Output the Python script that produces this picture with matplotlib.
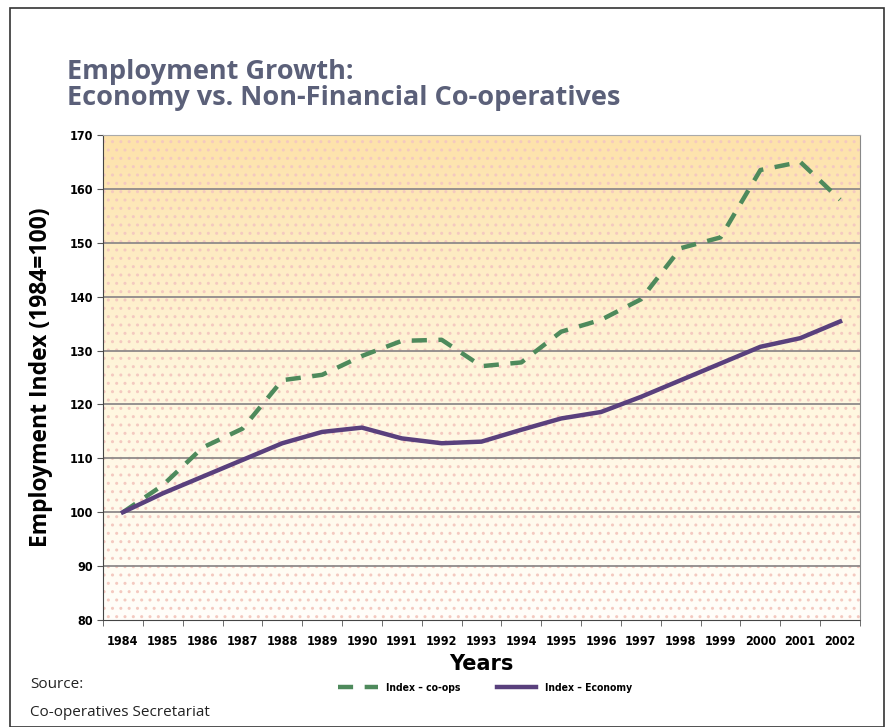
import numpy as np
import matplotlib
matplotlib.use('Agg')
import matplotlib.pyplot as plt
from matplotlib.patches import Rectangle

# data
years = ['1984', '1985', '1986', '1987', '1988', '1989', '1990', '1991', '1992', '1993',
         '1994', '1995', '1996', '1997', '1998', '1999', '2000', '2001', '2002']
coops = [100, 105, 112, 115.5, 124.5, 125.5, 129, 131.8, 132, 127.1,
         127.8, 133.5, 135.7, 139.5, 149, 151, 163.5, 165, 158]
economy = [100, 103.5, 106.6, 109.7, 112.8, 114.9, 115.7, 113.7, 112.8, 113.1,
           115.3, 117.4, 118.6, 121.4, 124.5, 127.6, 130.7, 132.3, 135.4]
y_ticks = [80, 90, 100, 110, 120, 130, 140, 150, 160, 170]

narrow = ['DejaVu Sans']
sans = ['Open Sans', 'DejaVu Sans']

fig = plt.figure(figsize=(8.95, 7.27), dpi=100)
fig.patches.append(Rectangle((10 / 895, 0), 874 / 895, 1 - 8 / 727, transform=fig.transFigure,
                             fill=False, edgecolor='#333333', linewidth=1.2))

ax = fig.add_axes([103 / 895, 1 - 620 / 727, 757 / 895, 485 / 727])
x = np.arange(len(years))

# orange-to-cream gradient background with faint dot pattern
grad = np.linspace(0, 1, 256).reshape(-1, 1)
cmap = matplotlib.colors.LinearSegmentedColormap.from_list('bg', ['#fffefa', '#fff6dc', '#fde2aa'])
ax.imshow(grad, extent=[-0.5, 18.5, 80, 170], origin='lower', aspect='auto', cmap=cmap, zorder=0)
ax.add_patch(Rectangle((-0.5, 80), 19, 90, fill=False, hatch='..', edgecolor='#f4c9c0',
                       linewidth=0, zorder=0.5))

for t in y_ticks[1:-1]:
    ax.axhline(t, color='#8f8a8a', linewidth=1.3, zorder=1)

ax.plot(x, coops, color='#4e8a5c', linewidth=3.2, dashes=(3.4, 2.6), label='Index – co-ops', zorder=3)
ax.plot(x, economy, color='#59407d', linewidth=3.2, label='Index – Economy', zorder=3)

ax.set_xlim(-0.5, 18.5)
ax.set_ylim(80, 170)
ax.set_yticks(y_ticks)
ax.set_yticklabels([str(t) for t in y_ticks], family=narrow, fontweight='bold', fontsize=9,
                   fontstretch='condensed')
ax.set_xticks(x)
ax.set_xticklabels(years, family=narrow, fontweight='bold', fontsize=9, fontstretch='condensed')
ax.set_xticks(np.arange(-0.5, 19, 1), minor=True)
ax.tick_params(axis='x', which='major', length=0, pad=11)
ax.tick_params(axis='x', which='minor', length=4, color='#555555')
ax.tick_params(axis='y', length=4, color='#555555', pad=3)

ax.spines['left'].set_linestyle((0, (1, 1)))
ax.spines['bottom'].set_linestyle((0, (1, 1)))
ax.spines['left'].set_color('#444444')
ax.spines['bottom'].set_color('#444444')
ax.spines['top'].set_color('#aaaaaa')
ax.spines['right'].set_color('#888888')
ax.spines['right'].set_linestyle((0, (1, 1)))

ax.set_ylabel('Employment Index (1984=100)', family=sans, fontweight='bold', fontsize=16.5,
              labelpad=12)
ax.set_xlabel('Years', family=narrow, fontweight='bold', fontsize=15, labelpad=4)

fig.text(67 / 895, 1 - 59 / 727, 'Employment Growth:\nEconomy vs. Non-Financial Co-operatives',
         family=sans, fontweight='bold', fontsize=19.5, color='#5b6079',
         va='top', ha='left', linespacing=1.0)

fig.legend(loc='center', bbox_to_anchor=(485 / 895, 1 - 688 / 727), ncol=2, frameon=False,
           prop={'family': narrow, 'weight': 'bold', 'size': 7.5, 'stretch': 'condensed'},
           handlelength=3.8, columnspacing=3.5)

fig.text(30 / 895, 1 - 685 / 727, 'Source:', family=sans, fontsize=11, va='center', color='#222222')
fig.text(30 / 895, 1 - 712 / 727, 'Co-operatives Secretariat', family=sans, fontsize=11,
         va='center', color='#222222')

fig.savefig('out.png', dpi=100)
